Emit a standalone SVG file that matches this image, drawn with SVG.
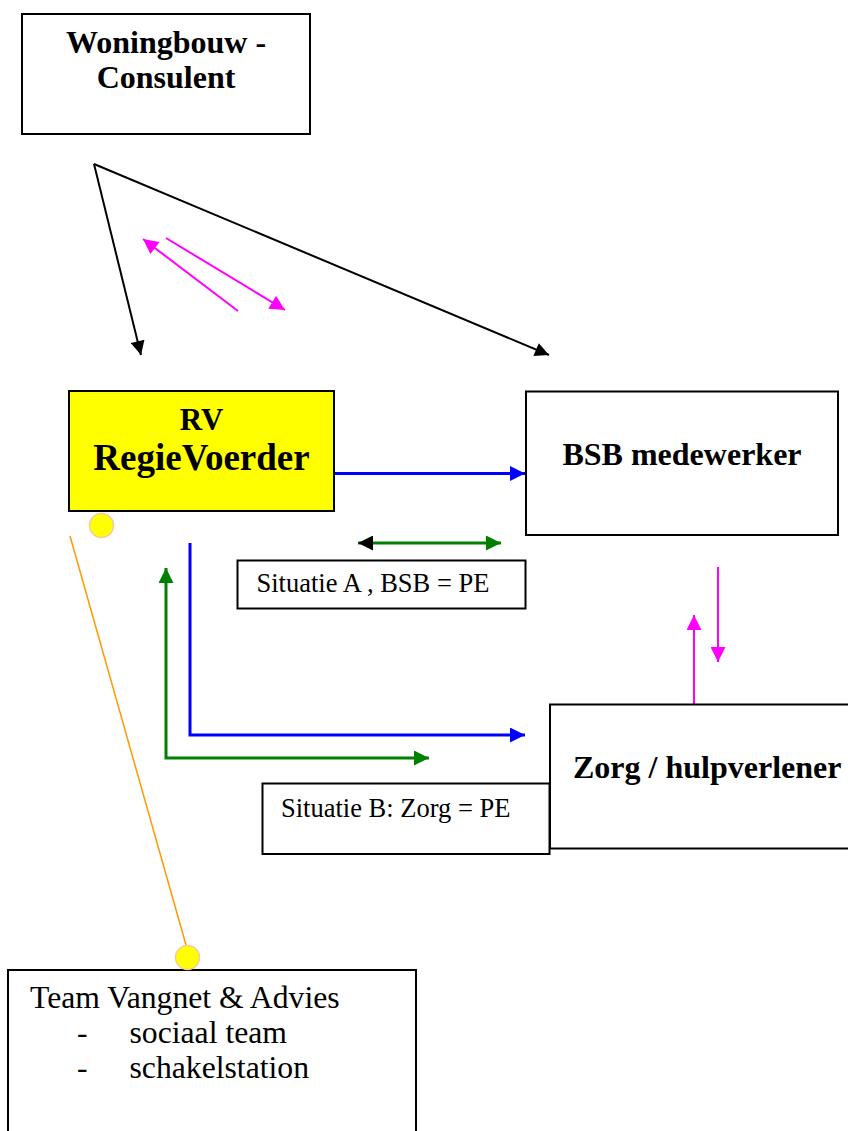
<svg xmlns="http://www.w3.org/2000/svg" width="848" height="1131" viewBox="0 0 848 1131">
<defs>
<style>
.box{fill:#fff;stroke:#000;stroke-width:2}
.t{font-family:"Liberation Serif","Times New Roman",serif;fill:#000}
.b{font-weight:bold}
.blk{stroke:#000;stroke-width:2;fill:none}
.mag{stroke:#ff00ff;stroke-width:2;fill:none}
.blu{stroke:#0000ff;stroke-width:3;fill:none}
.grn{stroke:#008000;stroke-width:3;fill:none}
.dot{fill:#ffff00;stroke:#f8c8a0;stroke-width:1.5}
</style>
<marker id="aBlk" viewBox="0 0 10 10" refX="10" refY="5" markerUnits="userSpaceOnUse" markerWidth="15" markerHeight="14" orient="auto"><path d="M0,0L10,5L0,10z" fill="#000"/></marker>
<marker id="aMag" viewBox="0 0 10 10" refX="10" refY="5" markerUnits="userSpaceOnUse" markerWidth="16" markerHeight="15" orient="auto"><path d="M0,0L10,5L0,10z" fill="#ff00ff"/></marker>
<marker id="aBlu" viewBox="0 0 10 10" refX="10" refY="5" markerUnits="userSpaceOnUse" markerWidth="15" markerHeight="15" orient="auto"><path d="M0,0L10,5L0,10z" fill="#0000ff"/></marker>
<marker id="aGrn" viewBox="0 0 10 10" refX="10" refY="5" markerUnits="userSpaceOnUse" markerWidth="15" markerHeight="15" orient="auto"><path d="M0,0L10,5L0,10z" fill="#008000"/></marker>
<marker id="aGrnS" viewBox="0 0 10 10" refX="10" refY="5" markerUnits="userSpaceOnUse" markerWidth="15" markerHeight="15" orient="auto-start-reverse"><path d="M0,0L10,5L0,10z" fill="#008000"/></marker>
<marker id="aBlkS" viewBox="0 0 10 10" refX="10" refY="5" markerUnits="userSpaceOnUse" markerWidth="15" markerHeight="15" orient="auto-start-reverse"><path d="M0,0L10,5L0,10z" fill="#000"/></marker>
</defs>
<rect width="848" height="1131" fill="#fff"/>

<g id="connectors">
<line class="blk" x1="94" y1="164" x2="141" y2="355" marker-end="url(#aBlk)"/>
<line class="blk" x1="94" y1="164" x2="549" y2="355" marker-end="url(#aBlk)"/>
<line class="mag" x1="238" y1="311" x2="143" y2="239" marker-end="url(#aMag)"/>
<line class="mag" x1="166" y1="238" x2="285" y2="310" marker-end="url(#aMag)"/>
<line class="blu" x1="334" y1="473.5" x2="525" y2="473.5" marker-end="url(#aBlu)"/>
<line class="grn" x1="358" y1="543" x2="501" y2="543" marker-start="url(#aBlkS)" marker-end="url(#aGrn)"/>
<polyline class="blu" points="190,543 190,735 525,735" marker-end="url(#aBlu)"/>
<polyline class="grn" points="166,568 166,758 429,758" marker-start="url(#aGrnS)" marker-end="url(#aGrn)"/>
<line class="mag" x1="694" y1="704" x2="694" y2="615" marker-end="url(#aMag)"/>
<line class="mag" x1="718" y1="567" x2="718" y2="662" marker-end="url(#aMag)"/>
<line x1="70" y1="536" x2="188" y2="952" stroke="#ff9900" stroke-width="1.5"/>
</g>

<g id="woningbouw">
<rect class="box" x="22" y="14" width="288" height="120"/>
<text class="t b" x="166" y="53" font-size="32" text-anchor="middle">Woningbouw -</text>
<text class="t b" x="166" y="88" font-size="32" text-anchor="middle">Consulent</text>
</g>

<g id="regievoerder">
<rect x="69" y="391" width="265" height="120" fill="#ffff00" stroke="#000" stroke-width="2"/>
<text class="t b" x="201.5" y="430" font-size="31" text-anchor="middle">RV</text>
<text class="t b" x="201.5" y="470" font-size="37" text-anchor="middle">RegieVoerder</text>
<circle class="dot" cx="101.5" cy="525.5" r="12"/>
</g>

<g id="bsb">
<rect class="box" x="526" y="391.5" width="312" height="143.5"/>
<text class="t b" x="682" y="465" font-size="32" text-anchor="middle">BSB medewerker</text>
</g>

<g id="situatieA">
<rect class="box" x="237.5" y="560.5" width="288" height="48"/>
<text class="t" x="256.5" y="591.5" font-size="26.5">Situatie A , BSB = PE</text>
</g>

<g id="zorg">
<rect class="box" x="550" y="704.5" width="310" height="144"/>
<text class="t b" x="573" y="778" font-size="32">Zorg / hulpverlener</text>
</g>

<g id="situatieB">
<rect class="box" x="262.5" y="783.5" width="287" height="70.5"/>
<text class="t" x="281" y="816.5" font-size="26.5">Situatie B: Zorg = PE</text>
</g>

<g id="team">
<rect class="box" x="8" y="970" width="408" height="180"/>
<text class="t" x="30" y="1008" font-size="31.7">Team Vangnet &amp; Advies</text>
<text class="t" x="77" y="1043" font-size="31.7">-</text>
<text class="t" x="129.5" y="1043" font-size="31.7">sociaal team</text>
<text class="t" x="77" y="1078" font-size="31.7">-</text>
<text class="t" x="129.5" y="1078" font-size="31.7">schakelstation</text>
<circle class="dot" cx="187.5" cy="957.5" r="12"/>
</g>
</svg>
